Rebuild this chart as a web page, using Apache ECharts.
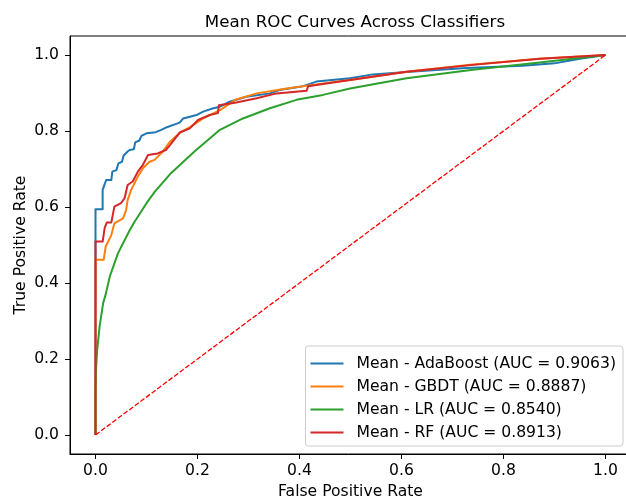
<!DOCTYPE html>
<html>
<head>
<meta charset="utf-8">
<script src="https://cdn.jsdelivr.net/npm/echarts@6/dist/echarts.min.js"></script>
<style>
    html, body { margin: 0; padding: 0; background: #fff; }
    #main { width: 626px; height: 499px; }
</style>
</head>
<body>
<div id="main"></div>
<script>
    // mean ROC curves as [fpr, tpr]
    var adaboostRoc = [[0,0],[0,0.594],[0.014,0.594],[0.014,0.645],[0.018,0.66],[0.021,0.671],[0.031,0.671],
        [0.033,0.693],[0.041,0.697],[0.045,0.715],[0.052,0.719],[0.055,0.735],[0.063,0.746],[0.067,0.75],
        [0.075,0.752],[0.078,0.77],[0.086,0.775],[0.09,0.787],[0.1,0.794],[0.118,0.797],[0.129,0.803],
        [0.14,0.81],[0.165,0.822],[0.172,0.833],[0.198,0.842],[0.211,0.851],[0.231,0.86],[0.244,0.864],
        [0.263,0.877],[0.296,0.89],[0.342,0.899],[0.361,0.908],[0.407,0.918],[0.433,0.93],[0.499,0.939],
        [0.544,0.949],[0.61,0.955],[0.727,0.966],[0.838,0.972],[0.9,0.978],[0.95,0.99],[1,1]];
    var gbdtRoc = [[0,0],[0,0.461],[0.016,0.461],[0.02,0.496],[0.031,0.526],[0.037,0.557],[0.054,0.57],
        [0.06,0.592],[0.063,0.618],[0.07,0.645],[0.083,0.68],[0.093,0.702],[0.106,0.719],[0.116,0.724],
        [0.132,0.746],[0.146,0.772],[0.165,0.795],[0.185,0.81],[0.211,0.833],[0.244,0.855],[0.276,0.883],
        [0.316,0.899],[0.375,0.912],[0.44,0.924],[0.499,0.934],[0.61,0.956],[0.74,0.975],[0.871,0.99],[1,1]];
    var lrRoc = [[0,0],[0,0.12],[0.001,0.17],[0.003,0.22],[0.008,0.285],[0.015,0.347],[0.02,0.37],
        [0.028,0.417],[0.044,0.478],[0.067,0.539],[0.076,0.56],[0.1,0.61],[0.116,0.64],[0.148,0.689],
        [0.194,0.746],[0.244,0.803],[0.289,0.833],[0.342,0.86],[0.394,0.882],[0.446,0.895],[0.499,0.912],
        [0.61,0.939],[0.74,0.961],[0.871,0.98],[1,1]];
    var rfRoc = [[0,0],[0,0.509],[0.014,0.509],[0.018,0.545],[0.022,0.559],[0.031,0.559],[0.037,0.601],
        [0.05,0.61],[0.057,0.623],[0.063,0.658],[0.073,0.667],[0.083,0.693],[0.093,0.711],[0.103,0.737],
        [0.122,0.741],[0.138,0.75],[0.146,0.763],[0.165,0.796],[0.185,0.807],[0.201,0.829],[0.224,0.842],
        [0.24,0.847],[0.242,0.868],[0.276,0.875],[0.316,0.886],[0.355,0.899],[0.414,0.906],[0.417,0.918],
        [0.479,0.93],[0.61,0.956],[0.74,0.974],[0.871,0.99],[1,1]];
    var chanceLine = [[0,0],[1,1]];

    var seriesNames = ['Mean - AdaBoost (AUC = 0.9063)', 'Mean - GBDT (AUC = 0.8887)',
        'Mean - LR (AUC = 0.8540)', 'Mean - RF (AUC = 0.8913)'];
    var seriesColors = ['#1f77b4', '#ff7f0e', '#2ca02c', '#d62728'];
    var tickValues = [0, 0.2, 0.4, 0.6, 0.8, 1.0];

    var font = 'DejaVu Sans';
    var fs = 15.6;
    var curves = [adaboostRoc, gbdtRoc, lrRoc, rfRoc];

    var series = [];
    curves.forEach(function (c, i) {
        series.push({
            name: seriesNames[i],
            type: 'line',
            data: c,
            showSymbol: false,
            lineStyle: { color: seriesColors[i], width: 2, join: 'round' },
            itemStyle: { color: seriesColors[i] }
        });
    });
    // diagonal drawn last, on top
    series.push({
        name: 'chance',
        type: 'line',
        data: chanceLine,
        showSymbol: false,
        silent: true,
        lineStyle: { color: '#ff0000', width: 1.3, type: [5, 2] }
    });

    function axisOf(name, nameGap, labelMargin) {
        return {
            type: 'value',
            min: -0.05,
            max: 1.05,
            name: name,
            nameLocation: 'middle',
            nameGap: nameGap,
            nameMoveOverlap: false,
            nameTextStyle: { fontFamily: font, fontSize: fs, color: '#000' },
            axisLine: { show: true, onZero: false, lineStyle: { color: '#000', width: 1 } },
            axisTick: { show: true, length: 5, customValues: tickValues, lineStyle: { color: '#000' } },
            axisLabel: {
                customValues: tickValues,
                margin: labelMargin,
                fontFamily: font, fontSize: fs, color: '#000',
                formatter: function (v) { return v.toFixed(1); }
            },
            splitLine: { show: false }
        };
    }

    var chart = echarts.init(document.getElementById('main'));
    chart.setOption({
        animation: false,
        backgroundColor: '#fff',
        title: {
            text: 'Mean ROC Curves Across Classifiers',
            left: 350,
            top: 9,
            textAlign: 'center',
            textStyle: { fontFamily: font, fontSize: 16.7, fontWeight: 'normal', color: '#000' }
        },
        grid: {
            left: 70, top: 36, width: 561, height: 418,
            outerBoundsMode: 'none',
            containLabel: false,
            show: true, borderColor: '#000', borderWidth: 1, backgroundColor: 'transparent'
        },
        legend: {
            data: seriesNames,
            orient: 'vertical',
            right: 3,
            bottom: 53,
            icon: 'rect',
            itemWidth: 33,
            itemHeight: 2,
            itemGap: 6,
            padding: [9, 7, 5, 5],
            backgroundColor: 'rgba(255,255,255,0.8)',
            borderColor: '#cccccc',
            borderWidth: 1,
            borderRadius: 3,
            textStyle: { fontFamily: font, fontSize: fs, color: '#000', lineHeight: 17, padding: [0, 0, 0, 8] }
        },
        xAxis: axisOf('False Positive Rate', 30, 9),
        yAxis: axisOf('True Positive Rate', 41, 11),
        series: series
    });
</script>
</body>
</html>
